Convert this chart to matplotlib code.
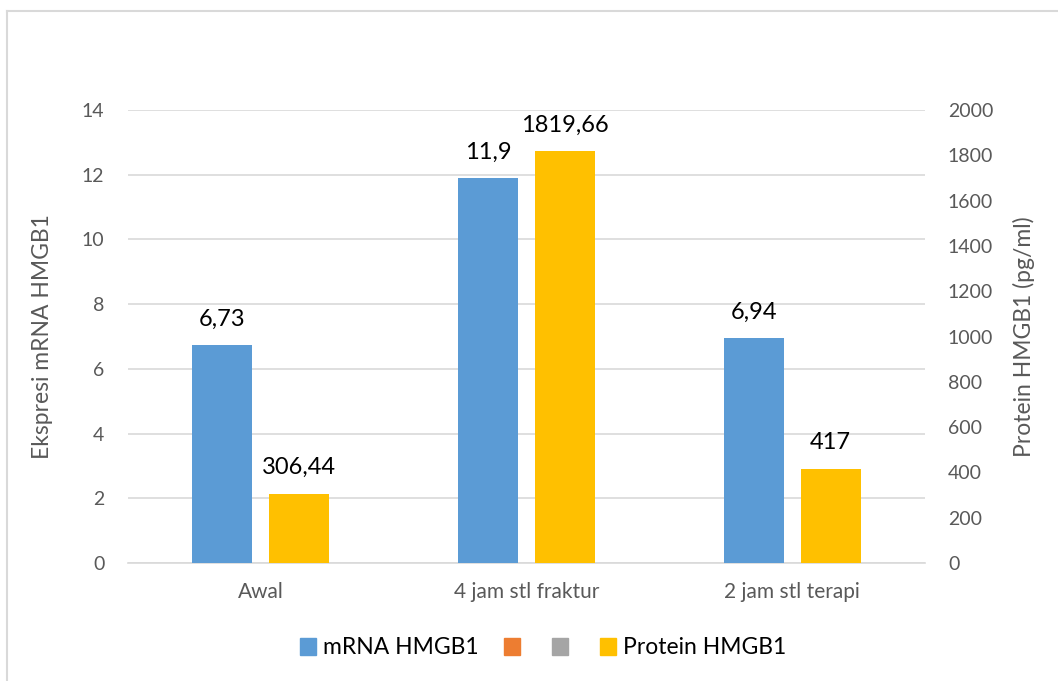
import numpy as np
import matplotlib.pyplot as plt
from matplotlib.patches import Patch
from matplotlib.lines import Line2D

# data
categories = ['Awal', '4 jam stl fraktur', '2 jam stl terapi']
mrna = [6.73, 11.9, 6.94]
protein = [306.44, 1819.66, 417]
mrna_labels = ['6,73', '11,9', '6,94']
protein_labels = ['306,44', '1819,66', '417']

BLUE = '#5B9BD5'
ORANGE = '#ED7D31'
GRAY = '#A5A5A5'
GOLD = '#FFC000'
TXT = '#595959'

plt.rcParams['font.family'] = ['Lato', 'DejaVu Sans']

W, H = 1058, 681
fig = plt.figure(figsize=(W / 100, H / 100), dpi=100)

# frame around chart (left and top only, as in the reference)
fig.add_artist(Line2D([7 / W, 7 / W], [0, 1 - 11 / H], color='#D9D9D9', lw=1.5))
fig.add_artist(Line2D([7 / W, 1], [1 - 11 / H, 1 - 11 / H], color='#D9D9D9', lw=1.5))

ax = fig.add_axes([128 / W, 1 - 563 / H, (925 - 128) / W, (563 - 110) / H])
ax2 = ax.twinx()

x = np.arange(len(categories))
bw = 0.225
off = 0.145

ax.bar(x - off, mrna, bw, color=BLUE, zorder=3)
ax2.bar(x + off, protein, bw, color=GOLD, zorder=3)

for xi, v, s in zip(x, mrna, mrna_labels):
    ax.annotate(s, (xi - off, v), xytext=(0, 11), textcoords='offset points',
                ha='center', va='bottom', fontsize=17, color='black')
for xi, v, s in zip(x, protein, protein_labels):
    ax2.annotate(s, (xi + off, v), xytext=(0, 11), textcoords='offset points',
                 ha='center', va='bottom', fontsize=17, color='black')

ax.set_xlim(-0.5, 2.5)
ax.set_ylim(0, 14)
ax2.set_ylim(0, 2000)
ax.set_yticks(np.arange(0, 15, 2))
ax2.set_yticks(np.arange(0, 2001, 200))
ax.set_xticks(x)
ax.set_xticklabels(categories)

ax.grid(axis='y', color='#D9D9D9', lw=1.2, zorder=0)
ax.set_axisbelow(True)

for a in (ax, ax2):
    for sp in a.spines.values():
        sp.set_visible(False)
    a.tick_params(length=0, labelsize=14, colors=TXT)
ax.spines['bottom'].set_visible(True)
ax.spines['bottom'].set_color('#D9D9D9')
ax.spines['bottom'].set_linewidth(1.2)
ax.tick_params(axis='y', pad=17)
ax2.tick_params(axis='y', pad=16.5)
ax.tick_params(axis='x', pad=14, labelsize=15)

ax.set_ylabel('Ekspresi mRNA HMGB1', fontsize=16.5, color=TXT, labelpad=21)
ax2.set_ylabel('Protein HMGB1 (pg/ml)', fontsize=16.5, color=TXT, labelpad=14)

handles = [Patch(color=BLUE), Patch(color=ORANGE), Patch(color=GRAY), Patch(color=GOLD)]
labels = ['mRNA HMGB1', '', '', 'Protein HMGB1']
fig.legend(handles, labels, loc='center', bbox_to_anchor=(543 / W, 1 - 648 / H), ncol=4,
           frameon=False, fontsize=16.5, handlelength=0.7, handleheight=0.7,
           handletextpad=0.3, columnspacing=1.1)

fig.savefig('out.png', dpi=100)
